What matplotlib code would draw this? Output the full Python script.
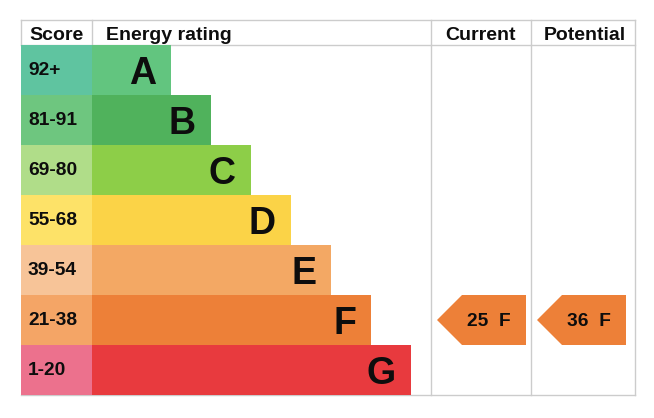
import matplotlib.pyplot as plt
from matplotlib.patches import Rectangle, Polygon

plt.rcParams['font.family'] = ['Liberation Sans', 'DejaVu Sans']

# band data
bands = ["A", "B", "C", "D", "E", "F", "G"]
score_ranges = ["92+", "81-91", "69-80", "55-68", "39-54", "21-38", "1-20"]
bar_colors = ["#62c57f", "#50b25c", "#8dce48", "#fbd347", "#f3a864", "#ed8038", "#e83a3e"]
cell_colors = ["#5fc4a0", "#6ec67f", "#b0dd89", "#fde268", "#f7c498", "#f4a566", "#ec718d"]
headers = ["Score", "Energy rating", "Current", "Potential"]

current_score, current_band = 25, "F"
potential_score, potential_band = 36, "F"

# layout (pixels)
W, H = 654, 418
left, top, head_h, row_h = 21, 20, 25, 50
score_w = 71
bar_x0 = left + score_w
bar_end0, bar_step = 171, 40
col_cur, col_pot, right = 431, 531, 635
grid = "#cccccc"
ink = "#0d0d0d"

fig = plt.figure(figsize=(W / 100, H / 100), dpi=100)
ax = fig.add_axes([0, 0, 1, 1])
ax.set_xlim(0, W)
ax.set_ylim(H, 0)
ax.axis("off")

rows_top = top + head_h
bottom = rows_top + row_h * len(bands)

# grid lines
ax.plot([left, right], [top, top], color=grid, lw=1, zorder=1)
ax.plot([left, right], [rows_top, rows_top], color=grid, lw=1, zorder=1)
ax.plot([left, right], [bottom, bottom], color=grid, lw=1, zorder=1)
ax.plot([left, left], [top, rows_top], color=grid, lw=1, zorder=1)
ax.plot([bar_x0, bar_x0], [top, rows_top], color=grid, lw=1, zorder=1)
for x in (col_cur, col_pot, right):
    ax.plot([x, x], [top, bottom], color=grid, lw=1, zorder=1)

# headers
hy = top + 20
ax.text((left + bar_x0) / 2, hy, headers[0], ha="center", va="baseline",
        fontsize=14, fontweight="bold", color=ink)
ax.text(bar_x0 + 14, hy, headers[1], ha="left", va="baseline",
        fontsize=14, fontweight="bold", color=ink)
ax.text((col_cur + col_pot) / 2, hy, headers[2], ha="center", va="baseline",
        fontsize=14, fontweight="bold", color=ink)
ax.text((col_pot + right) / 2 + 2, hy, headers[3], ha="center", va="baseline",
        fontsize=14, fontweight="bold", color=ink)

# bands
for i, (b, rng) in enumerate(zip(bands, score_ranges)):
    y0 = rows_top + i * row_h
    bar_end = bar_end0 + i * bar_step
    ax.add_patch(Rectangle((left, y0), score_w, row_h, color=cell_colors[i], lw=0, zorder=2))
    ax.add_patch(Rectangle((bar_x0, y0), bar_end - bar_x0, row_h, color=bar_colors[i], lw=0, zorder=2))
    ax.text(left + 7, y0 + 30, rng, ha="left", va="baseline",
            fontsize=13.8, fontweight="bold", color=ink, zorder=3)
    ax.text(bar_end - 15, y0 + 38.5, b, ha="right", va="baseline",
            fontsize=27, fontweight="bold", color=ink, zorder=3)


def arrow(col_x0, end, score, band):
    i = bands.index(band)
    y0 = rows_top + i * row_h
    tip = col_x0 + 6
    body = tip + 25
    pts = [(tip, y0 + row_h / 2), (body, y0), (end, y0), (end, y0 + row_h), (body, y0 + row_h)]
    ax.add_patch(Polygon(pts, closed=True, color=bar_colors[i], lw=0, zorder=2))
    ax.text((body + end) / 2 - 5, y0 + 31, f"{score}  {band}", ha="center", va="baseline",
            fontsize=13.8, fontweight="bold", color=ink, zorder=3)


arrow(col_cur, col_pot - 5, current_score, current_band)
arrow(col_pot, right - 9, potential_score, potential_band)

fig.savefig("out.png", dpi=100)
